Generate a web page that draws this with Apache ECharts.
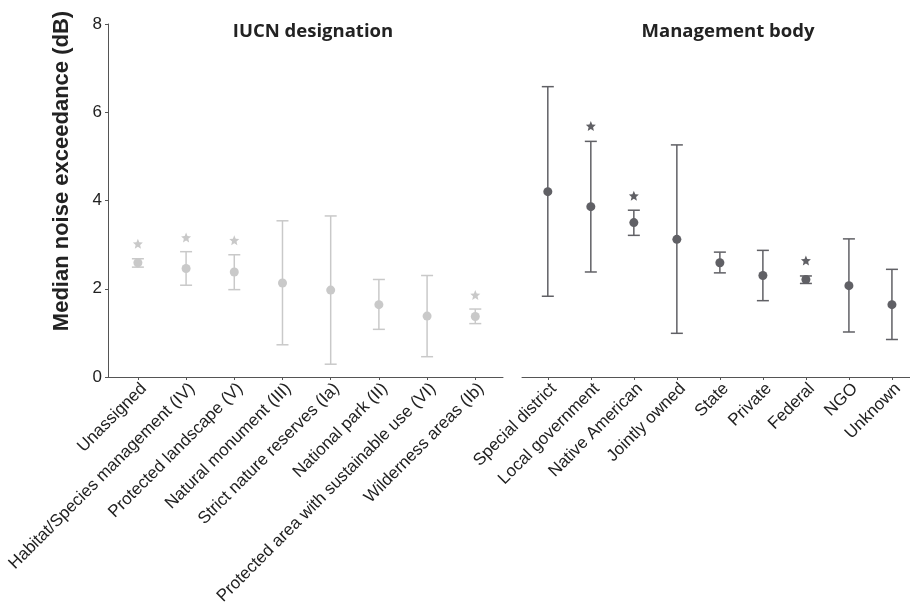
<!DOCTYPE html>
<html>
<head>
<meta charset="utf-8">
<script src="https://cdn.jsdelivr.net/npm/echarts@6/dist/echarts.min.js"></script>
<style>
html,body{margin:0;padding:0;background:#fff;}
#chart{width:910px;height:611px;}
</style>
</head>
<body>
<div id="chart"></div>
<script>
// ---- Data ----
const iucnCategories = ["Unassigned","Habitat/Species management (IV)","Protected landscape (V)","Natural monument (III)","Strict nature reserves (Ia)","National park (II)","Protected area with sustainable use (VI)","Wilderness areas (Ib)"];
const iucnMedian = [2.59, 2.46, 2.38, 2.13, 1.97, 1.64, 1.38, 1.37];
const iucnLow    = [2.49, 2.08, 1.98, 0.73, 0.29, 1.08, 0.46, 1.21];
const iucnHigh   = [2.68, 2.84, 2.77, 3.54, 3.65, 2.21, 2.30, 1.54];
const iucnStar   = [3.02, 3.16, 3.10, null, null, null, null, 1.86];

const mgmtCategories = ["Special district","Local government","Native American","Jointly owned","State","Private","Federal","NGO","Unknown"];
const mgmtMedian = [4.20, 3.86, 3.50, 3.12, 2.59, 2.30, 2.21, 2.07, 1.64];
const mgmtLow    = [1.83, 2.38, 3.21, 0.99, 2.36, 1.73, 2.12, 1.02, 0.85];
const mgmtHigh   = [6.58, 5.34, 3.78, 5.26, 2.83, 2.87, 2.29, 3.13, 2.44];
const mgmtStar   = [null, 5.69, 4.11, null, null, null, 2.64, null, null];

const yTicks = [0, 2, 4, 6, 8];

// ---- Styles ----
const lightCol = '#c9c9c9';
const darkCol = '#606065';
const axisCol = '#555555';
const txtCol = '#222222';
const starPath = 'path://M10 0 L12.65 6.36 L19.51 6.91 L14.28 11.39 L15.88 18.09 L10 14.5 L4.12 18.09 L5.72 11.39 L0.49 6.91 L7.35 6.36 Z';

function idx(arr){ return arr.map((_, i) => i); }
function pts(vals){ return vals.map((v, i) => [i, v]); }
function bars(lo, hi){ return lo.map((v, i) => [i, v, hi[i]]); }
function stars(vals){ return vals.map((v, i) => v == null ? null : [i, v]).filter(d => d); }

function errRender(color){
  return function(params, api){
    const x = api.value(0);
    const a = api.coord([x, api.value(1)]);
    const b = api.coord([x, api.value(2)]);
    const hw = 6;
    const st = {stroke: color, lineWidth: 1.5};
    return {type:'group', children:[
      {type:'line', shape:{x1:a[0], y1:a[1], x2:b[0], y2:b[1]}, style:st},
      {type:'line', shape:{x1:a[0]-hw, y1:a[1], x2:a[0]+hw, y2:a[1]}, style:st},
      {type:'line', shape:{x1:b[0]-hw, y1:b[1], x2:b[0]+hw, y2:b[1]}, style:st}
    ]};
  };
}

function xAxisFor(cats, gi, min, max){
  return {
    type:'value', gridIndex: gi, min: min, max: max,
    splitLine:{show:false},
    axisLine:{show:true, onZero:false, lineStyle:{color:axisCol, width:1}},
    axisTick:{show:true, customValues: idx(cats), length:3, lineStyle:{color:axisCol}},
    axisLabel:{
      customValues: idx(cats), rotate:45, margin:3, verticalAlign:'top',
      fontFamily:'Liberation Sans, Arial, sans-serif', fontSize:17, color:txtCol,
      formatter: v => cats[Math.round(v)]
    }
  };
}

const chart = echarts.init(document.getElementById('chart'));
chart.setOption({
  animation:false,
  backgroundColor:'#ffffff',
  grid:[
    {left:108, top:24, width:395, height:353},
    {left:522, top:24, width:388, height:353}
  ],
  xAxis:[
    xAxisFor(iucnCategories, 0, -0.62, 7.575),
    xAxisFor(mgmtCategories, 1, -0.6, 8.42)
  ],
  yAxis:[
    {type:'value', gridIndex:0, min:0, max:8, interval:2,
     splitLine:{show:false},
     axisLine:{show:true, onZero:false, lineStyle:{color:axisCol, width:1}},
     axisTick:{show:true, length:3, lineStyle:{color:axisCol}},
     axisLabel:{fontFamily:'Liberation Sans, Arial, sans-serif', fontSize:17, color:txtCol, margin:6,
       customValues: yTicks}},
    {type:'value', gridIndex:1, min:0, max:8, interval:2, show:false, splitLine:{show:false}}
  ],
  graphic:[
    {type:'text', x:62, y:171, rotation:Math.PI/2,
     style:{text:'Median noise exceedance (dB)', fontFamily:'Liberation Sans, Arial, sans-serif',
            fontWeight:'bold', fontSize:22, fill:txtCol, textAlign:'center', textVerticalAlign:'middle'}},
    {type:'text', x:313, y:32,
     style:{text:'IUCN designation', fontFamily:'Open Sans, sans-serif', fontWeight:'bold', fontSize:18.5,
            fill:txtCol, textAlign:'center', textVerticalAlign:'middle'}},
    {type:'text', x:728, y:32,
     style:{text:'Management body', fontFamily:'Open Sans, sans-serif', fontWeight:'bold', fontSize:18.5,
            fill:txtCol, textAlign:'center', textVerticalAlign:'middle'}}
  ],
  series:[
    {type:'custom', xAxisIndex:0, yAxisIndex:0, renderItem: errRender(lightCol), data: bars(iucnLow, iucnHigh), z:2},
    {type:'scatter', xAxisIndex:0, yAxisIndex:0, symbol:'circle', symbolSize:9, itemStyle:{color:lightCol, opacity:1}, data: pts(iucnMedian), z:3},
    {type:'scatter', xAxisIndex:0, yAxisIndex:0, symbol:starPath, symbolSize:10, itemStyle:{color:lightCol, opacity:1}, data: stars(iucnStar), z:3},
    {type:'custom', xAxisIndex:1, yAxisIndex:1, renderItem: errRender(darkCol), data: bars(mgmtLow, mgmtHigh), z:2},
    {type:'scatter', xAxisIndex:1, yAxisIndex:1, symbol:'circle', symbolSize:9, itemStyle:{color:darkCol, opacity:1}, data: pts(mgmtMedian), z:3},
    {type:'scatter', xAxisIndex:1, yAxisIndex:1, symbol:starPath, symbolSize:10, itemStyle:{color:darkCol, opacity:1}, data: stars(mgmtStar), z:3}
  ]
});
</script>
</body>
</html>
